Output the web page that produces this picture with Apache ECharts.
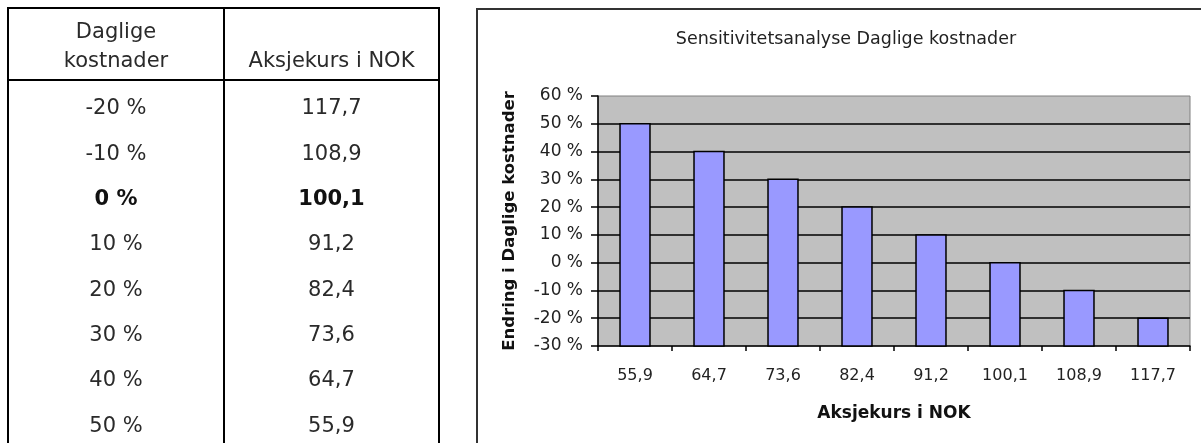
<!DOCTYPE html>
<html>
<head>
<meta charset="utf-8">
<script src="https://cdn.jsdelivr.net/npm/echarts@6/dist/echarts.min.js"></script>
<style>
  html, body { margin: 0; padding: 0; background: #fff; }
  #main { width: 1201px; height: 443px; }
</style>
</head>
<body>
<div id="main"></div>
<script>
// Sensitivity of the share price to changes in daily costs
const costChanges = [-20, -10, 0, 10, 20, 30, 40, 50];                       // % change in daily costs
const sharePrices = [117.7, 108.9, 100.1, 91.2, 82.4, 73.6, 64.7, 55.9];     // share price, NOK
const baseCaseIndex = 2;                                                      // 0 % row, shown in bold
const tableHeaders = [['Daglige', 'kostnader'], ['Aksjekurs i NOK']];
const chartTitle = 'Sensitivitetsanalyse Daglige kostnader';
const xAxisTitle = 'Aksjekurs i NOK';
const yAxisTitle = 'Endring i Daglige kostnader';
const yMin = -30, yMax = 60, yStep = 10;

const FONT = '"DejaVu Sans", Verdana, sans-serif';
const fmtPrice = v => v.toFixed(1).replace('.', ',');
const fmtPct = v => v + ' %';

// chart runs from the lowest price to the highest
const chartCategories = sharePrices.slice().reverse().map(fmtPrice);
const chartValues = costChanges.slice().reverse();

// ---- table on the left, drawn as graphic elements ----
const T = { left: 8, right: 439, mid: 224, top: 8, head: 80, bottom: 443, row0: 109, rowStep: 45.3 };
const colCenters = [(T.left + T.mid) / 2, (T.mid + T.right) / 2];
const tableGraphics = [];
const line = (x1, y1, x2, y2) => ({
  type: 'line', silent: true,
  shape: { x1, y1, x2, y2 },
  style: { stroke: '#000', lineWidth: 2 }
});
tableGraphics.push(line(T.left - 1, T.top, T.right + 1, T.top));
tableGraphics.push(line(T.left, T.top, T.left, T.bottom));
tableGraphics.push(line(T.mid, T.top, T.mid, T.bottom));
tableGraphics.push(line(T.right, T.top, T.right, T.bottom));
tableGraphics.push(line(T.left, T.head, T.right, T.head));
const cellText = (x, y, text, bold) => ({
  type: 'text', silent: true, x, y,
  style: {
    text, fill: bold ? '#111' : '#2a2a2a', font: (bold ? 'bold ' : '') + '21px ' + FONT,
    textAlign: 'center', textVerticalAlign: 'middle'
  }
});
tableGraphics.push(cellText(colCenters[0], 33, tableHeaders[0][0]));
tableGraphics.push(cellText(colCenters[0], 62, tableHeaders[0][1]));
tableGraphics.push(cellText(colCenters[1], 62, tableHeaders[1][0]));
costChanges.forEach((c, i) => {
  const y = T.row0 + i * T.rowStep;
  const bold = i === baseCaseIndex;
  tableGraphics.push(cellText(colCenters[0], y, fmtPct(c), bold));
  tableGraphics.push(cellText(colCenters[1], y, fmtPrice(sharePrices[i]), bold));
});

// frame around the chart area
const chartFrame = {
  type: 'rect', silent: true, z: -1,
  shape: { x: 477, y: 9, width: 800, height: 500 },
  style: { fill: '#fff', stroke: '#333', lineWidth: 2 }
};

const chart = echarts.init(document.getElementById('main'));
chart.setOption({
  backgroundColor: '#fff',
  animation: false,
  title: {
    text: chartTitle,
    left: 841, top: 25, textAlign: 'center',
    textStyle: { fontFamily: FONT, fontSize: 17.5, fontWeight: 'normal', color: '#222' }
  },
  graphic: [chartFrame].concat(tableGraphics),
  grid: {
    left: 598, top: 96, right: 11, bottom: 97,
    show: true, backgroundColor: '#C0C0C0', borderColor: '#808080', borderWidth: 1
  },
  xAxis: {
    type: 'category',
    data: chartCategories,
    boundaryGap: true,
    axisLine: { onZero: false, lineStyle: { color: '#000', width: 1.5 } },
    axisTick: { show: true, length: 5, lineStyle: { color: '#000', width: 1.5 } },
    axisLabel: { color: '#222', fontFamily: FONT, fontSize: 16, margin: 22 },
    splitLine: { show: false },
    name: xAxisTitle,
    nameLocation: 'middle',
    nameGap: 59,
    nameTextStyle: { fontFamily: FONT, fontSize: 17, fontWeight: 'bold', color: '#111' }
  },
  yAxis: {
    type: 'value',
    min: yMin, max: yMax, interval: yStep,
    axisLine: { show: true, lineStyle: { color: '#000', width: 1.5 } },
    axisTick: { show: true, length: 7, lineStyle: { color: '#000', width: 1.5 } },
    axisLabel: { formatter: fmtPct, color: '#222', fontFamily: FONT, fontSize: 17, margin: 15 },
    splitLine: { show: true, showMinLine: false, showMaxLine: false, lineStyle: { color: '#000', width: 1.5 } },
    name: yAxisTitle,
    nameLocation: 'middle',
    nameGap: 80,
    nameTextStyle: { fontFamily: FONT, fontSize: 16.5, fontWeight: 'bold', color: '#111' }
  },
  series: [{
    type: 'custom',
    data: chartValues.map((v, i) => [i, v]),
    encode: { x: 0, y: 1 },
    // each column rises from the bottom of the value axis to its value
    renderItem(params, api) {
      const top = api.coord([api.value(0), api.value(1)]);
      const base = api.coord([api.value(0), yMin]);
      const w = api.size([1, 0])[0] * 0.405;
      return {
        type: 'rect',
        shape: { x: top[0] - w / 2, y: top[1], width: w, height: base[1] - top[1] },
        style: { fill: '#9999FF', stroke: '#000', lineWidth: 1.5 }
      };
    }
  }]
});
</script>
</body>
</html>
